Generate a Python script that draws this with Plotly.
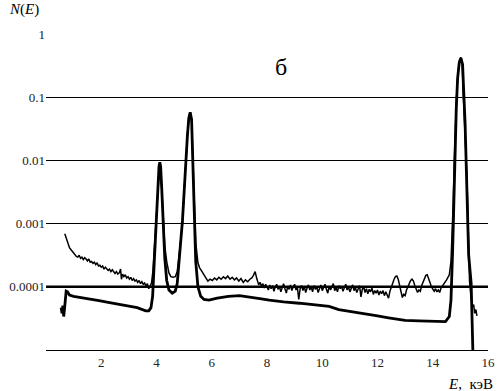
import numpy as np
import plotly.graph_objects as go

# Series A (thin, noisy spectrum): energy (keV) and log10 N(E)
a_energy = [0.68, 0.72, 0.76, 0.80, 0.85, 0.90, 0.95, 1.00, 1.05, 1.10,
            1.15, 1.20, 1.25, 1.30, 1.35, 1.40, 1.45, 1.50, 1.55, 1.60, 1.65, 1.70, 1.75, 1.80, 1.85, 1.90,
            1.95, 2.00, 2.05, 2.10, 2.15, 2.20, 2.25, 2.30, 2.35, 2.40, 2.45, 2.50, 2.55, 2.60, 2.65, 2.70,
            2.73, 2.77, 2.82, 2.87, 2.92, 2.97, 3.02, 3.07, 3.12, 3.17, 3.22, 3.27, 3.32, 3.37, 3.42, 3.47,
            3.52, 3.57, 3.62, 3.67, 3.72, 3.77, 3.82,
            3.87, 3.91, 3.95, 4.00, 4.05, 4.09, 4.12, 4.15, 4.19, 4.24, 4.30, 4.37, 4.45, 4.52, 4.60, 4.68,
            4.75, 4.82, 4.88, 4.94, 5.00, 5.06, 5.12, 5.17, 5.22, 5.27, 5.31, 5.36, 5.42, 5.50, 5.56, 5.62,
            5.70, 5.78, 5.86, 5.94, 6.02, 6.10, 6.18, 6.26, 6.34, 6.42, 6.50, 6.58, 6.66, 6.74, 6.82, 6.90,
            6.98, 7.06, 7.14, 7.22, 7.30, 7.38, 7.45, 7.51, 7.57, 7.63,
            7.70, 7.75, 7.80, 7.85, 7.90, 7.95, 8.00, 8.05, 8.10, 8.15, 8.20, 8.25, 8.30, 8.35, 8.40, 8.45,
            8.50, 8.55, 8.60, 8.65, 8.70, 8.75, 8.80, 8.85, 8.90, 8.95, 9.00, 9.05, 9.10, 9.15, 9.20, 9.25,
            9.30, 9.35, 9.40, 9.45, 9.50, 9.55, 9.60, 9.65, 9.70, 9.75, 9.80, 9.85, 9.90, 9.95, 10.00, 10.05,
            10.10, 10.15, 10.20, 10.25, 10.30, 10.35, 10.40, 10.45, 10.50, 10.55, 10.60, 10.65, 10.70, 10.75,
            10.80, 10.85, 10.90, 10.95, 11.00, 11.05, 11.10, 11.15, 11.20, 11.25, 11.30, 11.35, 11.40, 11.45,
            11.50, 11.55, 11.60, 11.65, 11.70, 11.75, 11.80, 11.85, 11.90, 11.95, 12.00, 12.05, 12.10, 12.15,
            12.20, 12.25, 12.30, 12.35, 12.40, 12.45, 12.50, 12.55, 12.60, 12.65, 12.70, 12.75, 12.80, 12.85,
            12.90, 12.95, 13.00, 13.05, 13.10, 13.15, 13.20, 13.25, 13.30, 13.35, 13.40, 13.45, 13.50, 13.55,
            13.60, 13.65, 13.70, 13.75, 13.80, 13.85, 13.90, 13.95, 14.00, 14.05, 14.10, 14.15, 14.20, 14.25,
            14.30, 14.35, 14.40, 14.45, 14.50, 14.55, 14.60,
            14.66, 14.70, 14.74, 14.78, 14.82, 14.86, 14.92, 14.97, 15.02, 15.07, 15.10, 15.15, 15.20,
            15.24, 15.28, 15.33, 15.38, 15.43, 15.48, 15.52, 15.56, 15.60]
a_log10 = [-3.16, -3.22, -3.28, -3.33, -3.38, -3.41, -3.44, -3.47, -3.50, -3.52,
           -3.53, -3.50, -3.55, -3.53, -3.57, -3.54, -3.56, -3.59, -3.56, -3.61, -3.60, -3.63, -3.61, -3.65, -3.62, -3.67,
           -3.66, -3.69, -3.67, -3.72, -3.69, -3.71, -3.74, -3.72, -3.76, -3.73, -3.77, -3.79, -3.76, -3.80, -3.78, -3.72,
           -3.88, -3.80, -3.84, -3.81, -3.86, -3.84, -3.88, -3.85, -3.90, -3.87, -3.91, -3.89, -3.93, -3.90, -3.95, -3.92,
           -3.96, -3.94, -3.99, -3.95, -4.03, -3.97, -3.94,
           -3.75, -3.45, -3.20, -2.95, -2.45, -2.12, -2.03, -2.12, -2.50, -3.00, -3.35, -3.60, -3.78, -3.84, -3.85, -3.84,
           -3.76, -3.50, -3.25, -3.00, -2.50, -2.00, -1.60, -1.33, -1.24, -1.35, -1.85, -2.70, -3.30, -3.62, -3.70, -3.74,
           -3.80, -3.86, -3.91, -3.88, -3.90, -3.86, -3.89, -3.85, -3.88, -3.84, -3.87, -3.83, -3.88, -3.85, -3.89, -3.86,
           -3.91, -3.87, -3.93, -3.89, -3.92, -3.88, -3.86, -3.82, -3.76, -3.87,
           -3.97, -3.93, -3.99, -3.95, -4.02, -3.96, -4.00, -4.05, -3.97, -4.03, -3.98, -4.07, -4.00, -3.96, -4.04, -3.99,
           -4.08, -4.01, -3.95, -4.03, -4.10, -3.99, -4.04, -3.97, -4.06, -4.00, -3.96, -4.05, -4.01, -4.20, -4.03, -3.98,
           -4.06, -3.99, -4.09, -4.02, -3.97, -4.05, -4.00, -4.08, -3.98, -4.04, -4.00, -4.09, -4.02, -3.97, -4.06, -4.01,
           -3.96, -4.04, -4.10, -3.99, -4.05, -4.00, -3.95, -4.06, -4.01, -4.08, -3.98, -4.03, -3.99, -4.07,
           -4.02, -3.96, -4.05, -4.00, -4.08, -4.02, -3.97, -4.06, -4.01, -4.09, -4.03, -3.98, -4.16, -4.04,
           -4.00, -4.09, -4.03, -4.11, -4.04, -4.08, -4.02, -4.12, -4.06, -4.10, -4.05, -4.13, -4.07, -4.11,
           -4.06, -4.14, -4.08, -4.12, -4.18, -4.07, -4.00, -3.93, -3.88, -3.84, -3.83, -3.88, -3.97, -4.06,
           -4.17, -4.12, -4.14, -4.05, -4.00, -3.94, -3.90, -3.88, -3.91, -3.98, -4.04, -4.09, -4.05, -4.07,
           -3.98, -3.92, -3.86, -3.82, -3.81, -3.86, -3.93, -4.00, -4.04, -4.07, -4.03, -4.08, -4.05, -4.09,
           -4.02, -3.99, -3.96, -3.92, -3.89, -3.85, -3.81,
           -3.60, -3.20, -2.70, -2.00, -1.50, -1.00, -0.60, -0.42, -0.37, -0.50, -0.90, -1.40, -1.80,
           -2.30, -3.00, -3.90, -4.15, -4.32, -4.28, -4.42, -4.36, -4.46]

# Series B (thick, smooth spectrum): energy (keV) and log10 N(E)
b_energy = [0.55, 0.58, 0.61, 0.64, 0.67, 0.70, 0.73, 0.78, 0.85, 1.00, 1.30, 1.60, 1.92, 2.30, 2.70, 3.00,
            3.30, 3.61, 3.72, 3.80, 3.86, 3.92, 3.97, 4.02, 4.06, 4.09, 4.12, 4.15, 4.19, 4.24, 4.30, 4.37,
            4.45, 4.57, 4.68, 4.75, 4.82, 4.88, 4.94, 5.00, 5.06, 5.12, 5.17, 5.22, 5.27, 5.31, 5.36, 5.42,
            5.50, 5.60, 5.72, 5.90, 6.20, 6.60, 7.00, 7.40, 7.80, 8.08, 8.60, 9.17, 9.70, 10.25, 10.60, 10.98,
            11.50, 12.00, 12.40, 13.00, 13.50, 14.00, 14.46, 14.60, 14.66, 14.72, 14.76, 14.80, 14.85, 14.90,
            14.96, 15.02, 15.08, 15.12, 15.17, 15.22, 15.25, 15.30, 15.39, 15.45, 15.48]
b_log10 = [-4.33, -4.42, -4.30, -4.47, -4.35, -4.22, -4.07, -4.08, -4.13, -4.15, -4.17, -4.19, -4.22, -4.25, -4.28, -4.30,
           -4.33, -4.38, -4.38, -4.33, -4.15, -3.60, -3.10, -2.70, -2.30, -2.10, -2.03, -2.10, -2.45, -3.00, -3.55, -3.90,
           -4.05, -4.10, -4.07, -3.95, -3.60, -3.25, -2.95, -2.50, -2.00, -1.60, -1.33, -1.24, -1.35, -2.00, -2.90, -3.60,
           -4.00, -4.15, -4.20, -4.21, -4.18, -4.15, -4.14, -4.16, -4.19, -4.21, -4.24, -4.26, -4.29, -4.31, -4.36, -4.39,
           -4.43, -4.46, -4.49, -4.53, -4.54, -4.55, -4.55, -4.47, -4.21, -3.42, -2.60, -1.90, -1.20, -0.70,
           -0.45, -0.38, -0.48, -0.90, -1.40, -2.20, -2.80, -3.50, -3.94, -5.00, -5.50]

y_tick_vals = [1e-4, 1e-3, 1e-2, 1e-1, 1]
y_tick_text = ["0.0001", "0.001", "0.01", "0.1", "1"]
x_tick_vals = [2, 4, 6, 8, 10, 12, 14, 16]
x_tick_text = ["2", "4", "6", "8", "10", "12", "14", "16"]

SERIF = "Liberation Serif"

fig = go.Figure()
fig.add_trace(go.Scatter(x=a_energy, y=np.power(10.0, a_log10), mode="lines",
                         line=dict(color="black", width=1.5), showlegend=False, hoverinfo="skip"))
fig.add_trace(go.Scatter(x=b_energy, y=np.power(10.0, b_log10), mode="lines",
                         line=dict(color="black", width=2.8), showlegend=False, hoverinfo="skip"))

# thicker grid line at 0.0001 (log range -5..0 -> paper 0.2)
fig.add_shape(type="line", xref="paper", yref="paper", x0=0, x1=1, y0=0.2, y1=0.2,
              line=dict(color="black", width=2.4), layer="below")

fig.update_layout(
    width=499, height=391, autosize=False,
    margin=dict(l=46, r=11, t=34, b=41),
    paper_bgcolor="white", plot_bgcolor="white",
    font=dict(family=SERIF, color="#111", size=13),
    xaxis=dict(range=[0, 16], tickvals=x_tick_vals, ticktext=x_tick_text, showgrid=False,
               showline=True, linecolor="black", linewidth=1.3, zeroline=False, ticks="",
               automargin=False, tickfont=dict(family=SERIF, size=13, color="#222")),
    yaxis=dict(type="log", range=[-5, 0], tickvals=y_tick_vals, ticktext=y_tick_text,
               showgrid=True, gridcolor="black", gridwidth=1.1, showline=False, zeroline=False,
               ticks="", ticksuffix="\u00a0", automargin=False,
               tickfont=dict(family=SERIF, size=13, color="#222")),
    annotations=[
        dict(text="б", xref="paper", yref="paper", x=0.532, y=0.896, showarrow=False,
             font=dict(family=SERIF, size=24, color="black"), xanchor="center", yanchor="middle"),
        dict(text="<i>N</i>(<i>E</i>)", xref="paper", yref="paper", x=-0.088, y=1.079, showarrow=False,
             font=dict(family=SERIF, size=15, color="black"), xanchor="left", yanchor="middle"),
        dict(text="<i>E</i>,  кэВ", xref="paper", yref="paper", x=1.016, y=-0.108, showarrow=False,
             font=dict(family=SERIF, size=15, color="black"), xanchor="right", yanchor="middle"),
    ],
)

fig.write_html("out.html", config={"displayModeBar": False},
               post_script="document.body.style.margin='0';")
